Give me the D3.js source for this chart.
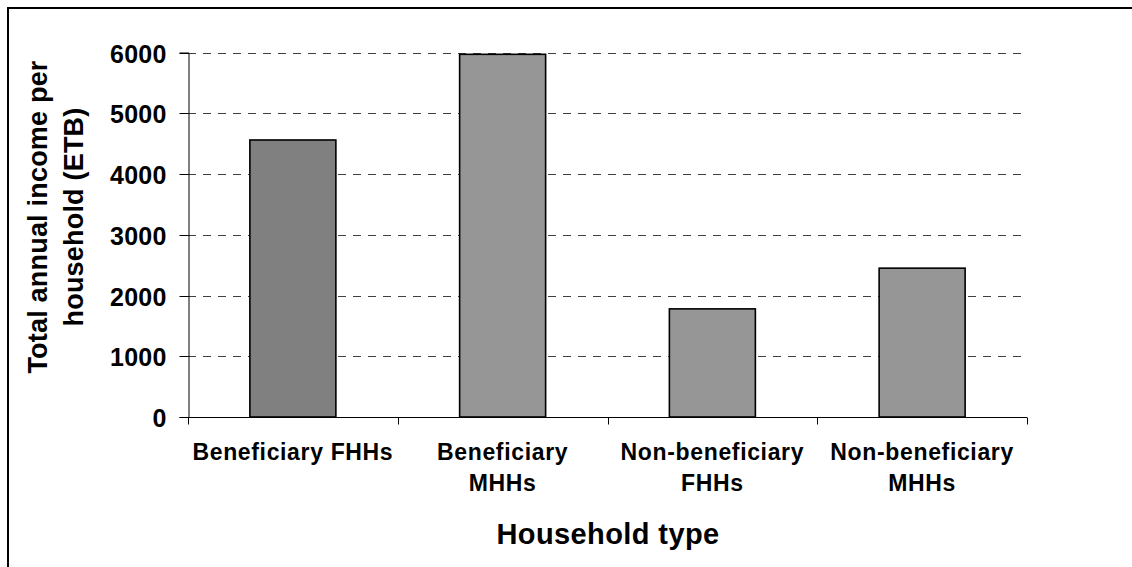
<!DOCTYPE html>
<html>
<head>
<meta charset="utf-8">
<script src="https://cdn.jsdelivr.net/npm/d3@7"></script>
<style>
  html, body { margin: 0; padding: 0; background: #fff; overflow: hidden; }
  svg { display: block; font-family: "Liberation Sans", Arial, sans-serif; font-weight: bold; }
</style>
</head>
<body>
<svg id="chart" width="1132" height="567"></svg>
<script>
// Household types (line breaks mark where the axis label wraps)
const categories = [
  "Beneficiary FHHs",
  "Beneficiary\nMHHs",
  "Non-beneficiary\nFHHs",
  "Non-beneficiary\nMHHs"
];
// Total annual income per household, ETB
const incomes = [4560, 5970, 1780, 2450];
const barColors = ["#808080", "#969696", "#969696", "#969696"];
const yTicks = [0, 1000, 2000, 3000, 4000, 5000, 6000];
const yTitleLines = ["Total annual income per", "household (ETB)"];
const xTitle = "Household type";

const svg = d3.select("#chart");

// Chart frame (left and top edges fall inside the view)
svg.append("path")
  .attr("d", "M8,567 V8 H1132")
  .attr("fill", "none").attr("stroke", "#000").attr("stroke-width", 2);

const plot = { left: 188, right: 1027, top: 52.5, bottom: 417 };

const y = d3.scaleLinear().domain([0, 6000]).range([plot.bottom, plot.top]);
const x = d3.scaleBand().domain(categories).range([plot.left, plot.right]).padding(0);
const xBars = d3.scaleBand().domain(categories).range([plot.left, plot.right])
  .paddingInner(0.59).paddingOuter(0.295);

// Dashed horizontal gridlines
svg.append("g")
  .selectAll("line")
  .data(yTicks.filter(d => d > 0))
  .join("line")
  .attr("x1", plot.left).attr("x2", plot.right)
  .attr("y1", d => Math.round(y(d)) + 0.5).attr("y2", d => Math.round(y(d)) + 0.5)
  .attr("stroke", "#404040").attr("stroke-width", 1)
  .attr("stroke-dasharray", "8,7");

// Y axis
const yAxis = svg.append("g")
  .attr("transform", `translate(${plot.left + 0.5},0)`)
  .call(d3.axisLeft(y).tickValues(yTicks).tickSize(9).tickPadding(13).tickFormat(d3.format("d")));
yAxis.select(".domain").attr("stroke", "#000");
yAxis.selectAll(".tick line").attr("stroke", "#000");
yAxis.selectAll(".tick").attr("transform", d => `translate(0,${Math.round(y(d)) + 0.5})`);
yAxis.selectAll(".tick text")
  .attr("font-size", 25).attr("font-family", "Liberation Sans, Arial, sans-serif")
  .attr("font-weight", "bold").attr("fill", "#000")
  .attr("letter-spacing", 0.2)
  .attr("dy", "0.36em");

// Bars
svg.append("g")
  .selectAll("rect")
  .data(categories)
  .join("rect")
  .attr("x", d => xBars(d))
  .attr("width", xBars.bandwidth())
  .attr("y", (d, i) => y(incomes[i]))
  .attr("height", (d, i) => y(0) - y(incomes[i]))
  .attr("fill", (d, i) => barColors[i])
  .attr("stroke", "#000").attr("stroke-width", 1.6);

// X axis: baseline with ticks at category boundaries
const xAxis = svg.append("g")
  .attr("transform", `translate(0,${plot.bottom + 0.5})`);
xAxis.append("line")
  .attr("x1", plot.left).attr("x2", plot.right)
  .attr("stroke", "#000");
xAxis.selectAll("line.bound")
  .data(categories.map(c => x(c)).concat([plot.right]))
  .join("line").attr("class", "bound")
  .attr("x1", d => Math.round(d) + 0.5).attr("x2", d => Math.round(d) + 0.5)
  .attr("y1", 0).attr("y2", 7)
  .attr("stroke", "#000");

// Category labels
const labels = svg.append("g")
  .selectAll("text")
  .data(categories)
  .join("text")
  .attr("x", d => x(d) + x.bandwidth() / 2)
  .attr("y", plot.bottom + 43)
  .attr("text-anchor", "middle")
  .attr("font-size", 23)
  .attr("letter-spacing", 0.65)
  .attr("fill", "#000");
labels.each(function(d) {
  const t = d3.select(this);
  d.split("\n").forEach((line, i) => {
    t.append("tspan")
      .attr("x", x(d) + x.bandwidth() / 2)
      .attr("dy", i === 0 ? 0 : 31)
      .text(line);
  });
});

// Axis titles
svg.append("text")
  .attr("x", 608).attr("y", 544)
  .attr("text-anchor", "middle")
  .attr("font-size", 29).attr("letter-spacing", 0.4)
  .attr("fill", "#000")
  .text(xTitle);

const yTitle = svg.append("text")
  .attr("transform", "translate(47,217) rotate(-90)")
  .attr("text-anchor", "middle")
  .attr("font-size", 27).attr("letter-spacing", 0.2)
  .attr("fill", "#000");
yTitleLines.forEach((line, i) => {
  yTitle.append("tspan").attr("x", 0).attr("dy", i === 0 ? 0 : 36).text(line);
});
</script>
</body>
</html>
